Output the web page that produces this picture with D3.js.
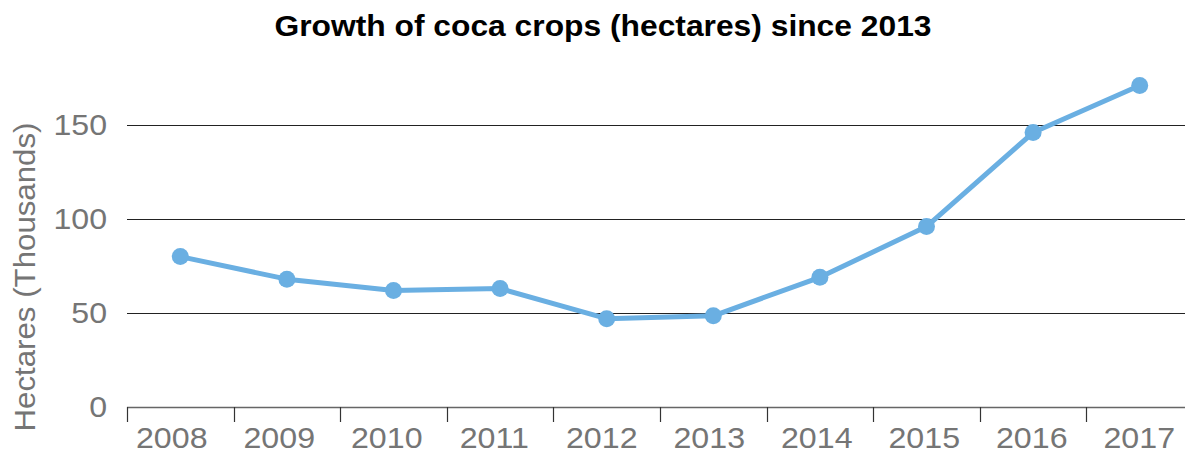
<!DOCTYPE html>
<html>
<head>
<meta charset="utf-8">
<script src="https://cdn.jsdelivr.net/npm/d3@7"></script>
<style>
  body { margin: 0; background: #fff; }
  svg { display: block; font-family: "Liberation Sans", Arial, sans-serif; }
</style>
</head>
<body>
<script>
// coca crop area, thousands of hectares
var years = ["2008", "2009", "2010", "2011", "2012", "2013", "2014", "2015", "2016", "2017"];
var hectares = [80, 68, 62, 63, 47, 48.5, 69, 96, 146, 171];
var yTicks = [0, 50, 100, 150];

var width = 1185, height = 456;

var svg = d3.select("body").append("svg")
    .attr("width", width)
    .attr("height", height);

var x = d3.scaleBand().domain(years).range([127, 1193]);
// the year labels in the original sit on a slightly different spacing than the ticks
var xLabel = d3.scaleBand().domain(years).range([118, 1193]);
var y = d3.scaleLinear().domain([0, 150]).range([407, 125]);

// the source font runs a little wider than Liberation Sans
function widen(sel, k) {
  sel.each(function() {
    var w = this.getComputedTextLength();
    d3.select(this).attr("textLength", w * k).attr("lengthAdjust", "spacingAndGlyphs");
  });
}

// title
svg.append("text")
    .attr("x", 603)
    .attr("y", 36)
    .attr("text-anchor", "middle")
    .attr("font-size", 29)
    .attr("font-weight", "bold")
    .attr("fill", "#000")
    .attr("textLength", 657)
    .attr("lengthAdjust", "spacingAndGlyphs")
    .text("Growth of coca crops (hectares) since 2013");

// gridlines
svg.selectAll(".grid")
    .data(yTicks.filter(function(d) { return d > 0; }))
    .enter().append("line")
    .attr("class", "grid")
    .attr("x1", 127)
    .attr("x2", width)
    .attr("y1", function(d) { return Math.round(y(d)) + 0.5; })
    .attr("y2", function(d) { return Math.round(y(d)) + 0.5; })
    .attr("stroke", "#222")
    .attr("stroke-width", 1);

// y axis labels
var yAxis = svg.append("g")
    .attr("transform", "translate(127,0)")
    .call(d3.axisLeft(y).tickValues(yTicks).tickSize(0).tickPadding(20));
yAxis.select(".domain").remove();
yAxis.selectAll("text")
    .attr("font-size", 30)
    .attr("font-family", "Liberation Sans, Arial, sans-serif")
    .attr("fill", "#757575")
    .call(widen, 1.07);

// x axis labels
var xAxis = svg.append("g")
    .attr("transform", "translate(0," + 407 + ")")
    .call(d3.axisBottom(xLabel).tickSize(0).tickPadding(20));
xAxis.select(".domain")
    .attr("d", "M127,0.5H" + width)
    .attr("stroke", "#666")
    .attr("stroke-width", 1.5);
xAxis.selectAll("text")
    .attr("font-size", 29.5)
    .attr("font-family", "Liberation Sans, Arial, sans-serif")
    .attr("fill", "#757575")
    .call(widen, 1.09);

// tick marks between the categories
xAxis.selectAll(".sep")
    .data(years)
    .enter().append("line")
    .attr("class", "sep")
    .attr("x1", function(d) { return Math.round(x(d)) + 0.5; })
    .attr("x2", function(d) { return Math.round(x(d)) + 0.5; })
    .attr("y1", 0)
    .attr("y2", 15)
    .attr("stroke", "#333")
    .attr("stroke-width", 1.2);

// y axis title
svg.append("text")
    .attr("transform", "translate(35,277) rotate(-90)")
    .attr("text-anchor", "middle")
    .attr("font-size", 30)
    .attr("fill", "#757575")
    .attr("textLength", 309)
    .attr("lengthAdjust", "spacingAndGlyphs")
    .text("Hectares (Thousands)");

// line + markers
var pts = years.map(function(d, i) { return {year: d, value: hectares[i]}; });

var line = d3.line()
    .x(function(d) { return x(d.year) + x.bandwidth() / 2; })
    .y(function(d) { return y(d.value); });

svg.append("path")
    .datum(pts)
    .attr("d", line)
    .attr("fill", "none")
    .attr("stroke", "#6aafe2")
    .attr("stroke-width", 5)
    .attr("stroke-linejoin", "round");

svg.selectAll(".dot")
    .data(pts)
    .enter().append("circle")
    .attr("class", "dot")
    .attr("r", 8.5)
    .attr("cx", function(d) { return x(d.year) + x.bandwidth() / 2; })
    .attr("cy", function(d) { return y(d.value); })
    .attr("fill", "#6aafe2");
</script>
</body>
</html>
